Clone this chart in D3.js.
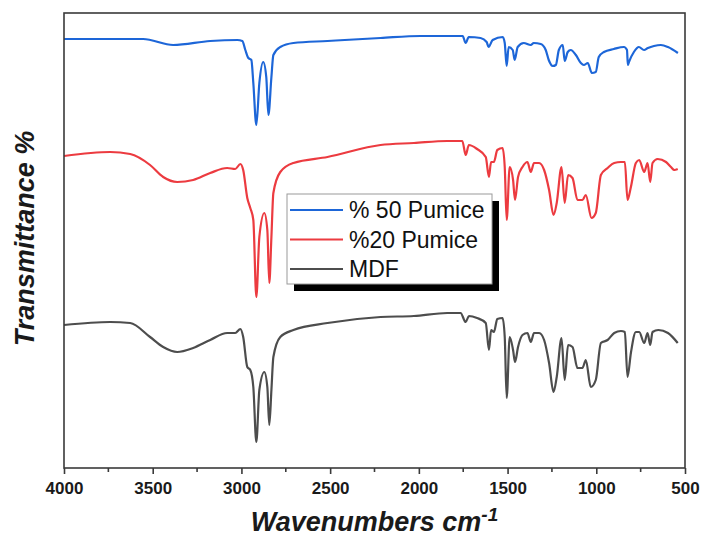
<!DOCTYPE html>
<html>
<head>
<meta charset="utf-8">
<script src="https://cdn.jsdelivr.net/npm/d3@7"></script>
<style>
  body { margin: 0; background: #fff; }
  svg { display: block; font-family: Arial, "Liberation Sans", sans-serif; }
</style>
</head>
<body>
<div id="chart"></div>
<script>
// FTIR spectra, [wavenumber cm-1, offset transmittance (a.u.)]
var pumice50 = [
  [4000,426],[3740,426],[3554,426],[3385,420],[3176,424],[3023,425],[2995,424],[2978,415],
  [2961,407],[2944,405],[2933,382],[2916,340],[2899,382],[2877,403],[2860,388],[2848,350],
  [2831,388],[2820,410],[2781,418],[2707,422],[2515,424],[2216,427],[1990,429],[1753,429],
  [1736,422],[1719,428],[1652,427],[1618,423],[1607,418],[1584,425],[1527,428],[1516,422],
  [1505,399],[1494,418],[1471,415],[1460,405],[1443,418],[1409,422],[1369,420],[1353,422],
  [1313,421],[1285,415],[1268,405],[1245,399],[1228,400],[1211,415],[1189,420],[1178,404],
  [1161,413],[1144,415],[1115,410],[1087,402],[1070,400],[1048,402],[1025,392],[1003,393],
  [986,408],[957,413],[901,416],[844,418],[827,415],[822,400],[816,403],[788,413],
  [760,418],[731,415],[709,417],[675,419],[636,420],[596,418],[540,412]
];

var pumice20 = [
  [4000,309],[3740,313],[3627,311],[3515,300],[3441,288],[3362,283],[3272,285],[3176,292],
  [3080,297],[3035,296],[3006,301],[2990,295],[2967,267],[2950,257],[2933,245],[2916,168],
  [2899,228],[2871,252],[2854,235],[2843,182],[2831,228],[2820,272],[2781,293],[2707,302],
  [2515,308],[2216,320],[2028,322],[1840,324],[1755,324],[1736,310],[1718,320],[1672,316],
  [1623,308],[1605,288],[1593,303],[1577,303],[1558,315],[1528,317],[1516,298],[1505,245],
  [1488,298],[1469,285],[1458,265],[1441,288],[1416,298],[1388,303],[1369,293],[1351,302],
  [1322,302],[1294,295],[1266,275],[1241,250],[1223,262],[1196,298],[1178,262],[1159,290],
  [1134,287],[1106,265],[1078,265],[1059,270],[1027,247],[1003,252],[974,290],[936,297],
  [899,302],[861,303],[839,303],[824,265],[805,278],[777,302],[758,305],[730,293],
  [711,302],[696,283],[683,302],[654,306],[607,303],[579,298],[560,295],[541,296]
];

var mdf = [
  [4000,140],[3740,143],[3627,142],[3515,128],[3441,118],[3362,113],[3272,117],[3176,125],
  [3080,132],[3035,132],[3006,136],[2990,128],[2967,98],[2950,95],[2933,78],[2916,23],
  [2899,75],[2871,93],[2854,78],[2843,40],[2831,75],[2820,108],[2781,128],[2707,135],
  [2515,142],[2216,148],[2028,149],[1840,152],[1765,152],[1736,143],[1718,149],[1672,147],
  [1623,142],[1605,115],[1593,135],[1577,133],[1558,146],[1528,147],[1516,128],[1505,67],
  [1488,128],[1469,115],[1458,103],[1441,118],[1416,130],[1388,132],[1369,123],[1351,132],
  [1322,132],[1294,125],[1266,102],[1241,73],[1223,88],[1196,127],[1178,85],[1159,120],
  [1134,118],[1106,97],[1078,97],[1059,105],[1031,78],[1003,85],[974,122],[936,125],
  [899,132],[861,134],[839,133],[824,88],[805,112],[777,133],[758,133],[730,122],
  [711,132],[696,120],[683,133],[650,135],[596,132],[541,122]
];

var seriesNames = ["% 50 Pumice", "%20 Pumice", "MDF"];
var seriesColors = ["#1d66d8", "#ec3b40", "#4d4d4d"];
var xTicks = [4000, 3500, 3000, 2500, 2000, 1500, 1000, 500];
var xMinorTicks = [3750, 3250, 2750, 2250, 1750, 1250, 750];

var W = 701, H = 540;
var margin = {top: 13, right: 16, bottom: 72, left: 64};
var width = W - margin.left - margin.right,
    height = H - margin.top - margin.bottom;

var svg = d3.select("#chart").append("svg")
    .attr("width", W)
    .attr("height", H);

var g = svg.append("g")
    .attr("transform", "translate(" + margin.left + "," + margin.top + ")");

var x = d3.scaleLinear().domain([4000, 500]).range([0, width]);
var y = d3.scaleLinear().domain([-3, 452]).range([height, 0]);

var line = d3.line()
    .x(function(d){ return x(d[0]); })
    .y(function(d){ return y(d[1]); })
    .curve(d3.curveMonotoneX);

// spectra
[pumice50, pumice20, mdf].forEach(function(s, i){
  g.append("path")
    .datum(s)
    .attr("d", line)
    .attr("fill", "none")
    .attr("stroke", seriesColors[i])
    .attr("stroke-width", 2.2)
    .attr("stroke-linejoin", "round");
});

// frame
g.append("rect")
  .attr("width", width)
  .attr("height", height)
  .attr("fill", "none")
  .attr("stroke", "#3a3a3a")
  .attr("stroke-width", 1.6);

// x axis
var xAxis = g.append("g")
  .attr("transform", "translate(0," + height + ")")
  .call(d3.axisBottom(x).tickValues(xTicks).tickSize(6).tickPadding(8).tickFormat(d3.format("d")));
xAxis.select(".domain").remove();
xAxis.selectAll("line").attr("stroke", "#3a3a3a").attr("stroke-width", 1.6);
xAxis.selectAll("text")
  .attr("fill", "#1a1a1a")
  .style("font-size", "17px")
  .style("font-weight", "bold");

g.append("g")
  .attr("transform", "translate(0," + height + ")")
  .selectAll("line")
  .data(xMinorTicks)
  .enter().append("line")
    .attr("x1", function(d){ return x(d); })
    .attr("x2", function(d){ return x(d); })
    .attr("y1", 0)
    .attr("y2", 4)
    .attr("stroke", "#3a3a3a")
    .attr("stroke-width", 1.6);

// axis titles
var xTitle = svg.append("text")
  .attr("x", margin.left + width / 2)
  .attr("y", 531)
  .attr("text-anchor", "middle")
  .style("font-size", "27px")
  .style("font-weight", "bold")
  .style("font-style", "italic")
  .attr("fill", "#1a1a1a");
xTitle.append("tspan").text("Wavenumbers cm");
xTitle.append("tspan").attr("dy", -10).style("font-size", "19px").text("-1");

svg.append("text")
  .attr("transform", "translate(34," + (margin.top + height / 2 - 2) + ")rotate(-90)")
  .attr("text-anchor", "middle")
  .style("font-size", "27px")
  .style("font-weight", "bold")
  .style("font-style", "italic")
  .attr("fill", "#1a1a1a")
  .text("Transmittance %");

// legend
var legend = svg.append("g").attr("transform", "translate(287,194)");
legend.append("rect")
  .attr("x", 7).attr("y", 7)
  .attr("width", 205).attr("height", 90)
  .attr("fill", "#000");
legend.append("rect")
  .attr("width", 205).attr("height", 90)
  .attr("fill", "#fff")
  .attr("stroke", "#9a9a9a")
  .attr("stroke-width", 1);

var item = legend.selectAll(".item")
  .data(seriesNames)
  .enter().append("g")
    .attr("transform", function(d, i){ return "translate(0," + (16 + i * 29.5) + ")"; });
item.append("line")
  .attr("x1", 3).attr("x2", 56)
  .attr("stroke", function(d, i){ return seriesColors[i]; })
  .attr("stroke-width", 2.2);
item.append("text")
  .attr("x", 62)
  .attr("dy", "0.36em")
  .style("font-size", "23px")
  .attr("fill", "#111")
  .text(function(d){ return d; });
</script>
</body>
</html>
